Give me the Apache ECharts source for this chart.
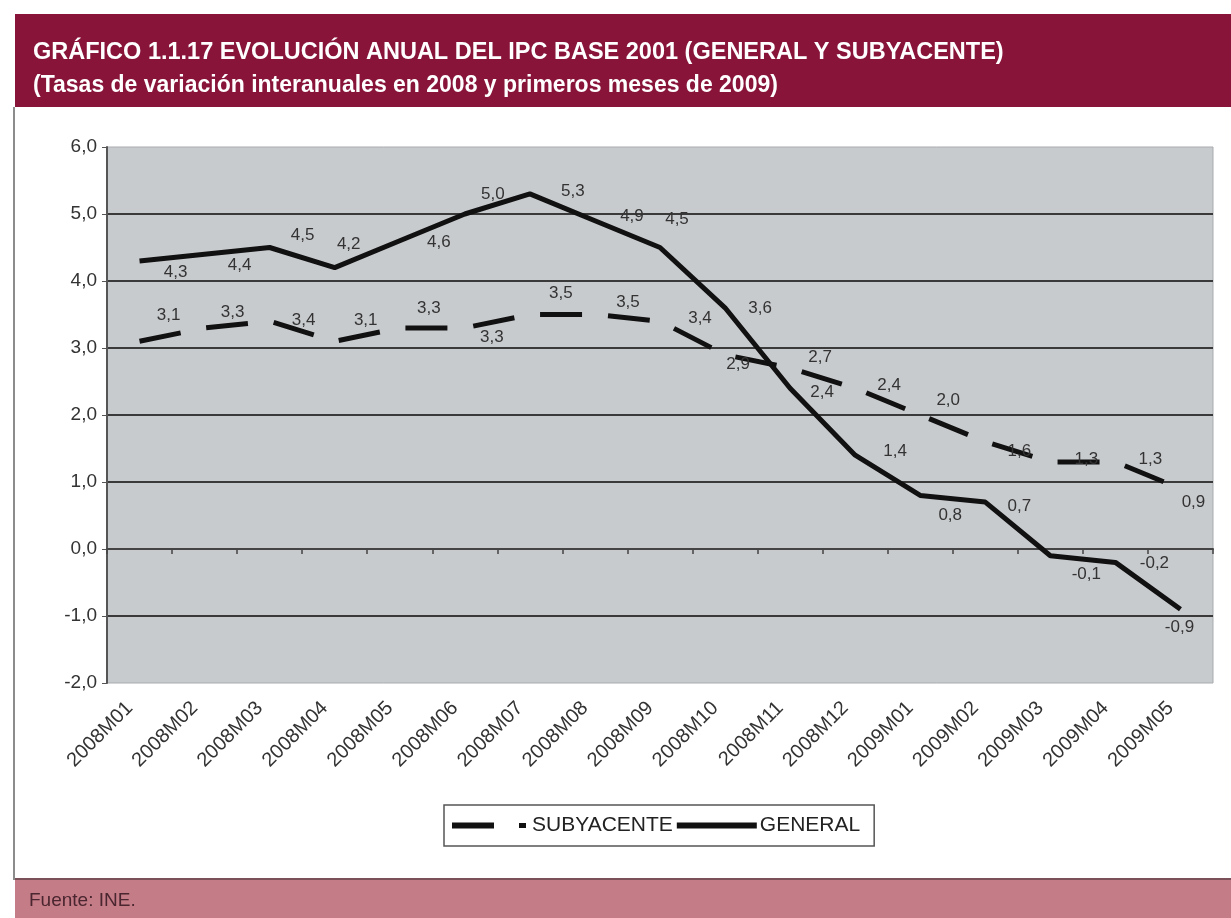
<!DOCTYPE html>
<html>
<head>
<meta charset="utf-8">
<title>IPC general y subyacente</title>
<script src="https://cdn.jsdelivr.net/npm/echarts@6/dist/echarts.min.js"></script>
<style>
    html, body { margin: 0; padding: 0; background: #fff; }
    #chart { width: 1231px; height: 918px; }
</style>
</head>
<body>
<div id="chart"></div>
<script>
// meses del eje X
const categories = ['2008M01', '2008M02', '2008M03', '2008M04', '2008M05', '2008M06',
    '2008M07', '2008M08', '2008M09', '2008M10', '2008M11', '2008M12',
    '2009M01', '2009M02', '2009M03', '2009M04', '2009M05'];

// tasas de variación interanual (%)
const general = [4.3, 4.4, 4.5, 4.2, 4.6, 5.0, 5.3, 4.9, 4.5, 3.6, 2.4, 1.4, 0.8, 0.7, -0.1, -0.2, -0.9];
const subyacente = [3.1, 3.3, 3.4, 3.1, 3.3, 3.3, 3.5, 3.5, 3.4, 2.9, 2.7, 2.4, 2.0, 1.6, 1.3, 1.3, 0.9];

// desplazamiento de las etiquetas (como en el gráfico de Excel)
const generalLabelOffset = [[36, 11], [35, 11], [33, -12], [14, -23], [39, 2], [28, -20], [43, -3],
    [37, -4], [17, -28], [35, 1], [32, 4], [40, -4], [30, 20], [34, 4], [36, 19], [39, 1], [-1, 18]];
const subyacenteLabelOffset = [[29, -26], [28, -16], [34, -1], [31, -21], [29, -20], [27, 9], [31, -21],
    [33, -12], [40, -3], [13, 10], [30, -11], [34, -3], [28, -15], [34, 10], [36, -3], [35, -3], [13, 14]];

const fmt = v => v.toFixed(1).replace('.', ',');
const FONT = "'Liberation Sans', Arial, sans-serif";

function withLabels(values, offsets) {
    return values.map((v, i) => ({
        value: v,
        label: { offset: offsets[i] }
    }));
}

const myChart = echarts.init(document.getElementById('chart'));
myChart.setOption({
    animation: false,
    backgroundColor: '#ffffff',
    textStyle: { fontFamily: FONT },
    title: {
        text: 'GRÁFICO 1.1.17 EVOLUCIÓN ANUAL DEL IPC BASE 2001 (GENERAL Y SUBYACENTE)',
        subtext: '(Tasas de variación interanuales en 2008 y primeros meses de 2009)',
        left: 33,
        top: 41,
        itemGap: 9,
        padding: 0,
        textStyle: { color: '#ffffff', fontSize: 23.5, fontWeight: 'bold', fontFamily: FONT },
        subtextStyle: { color: '#ffffff', fontSize: 23, fontWeight: 'bold', fontFamily: FONT }
    },
    graphic: [
        { type: 'rect', z: -10, shape: { x: 15, y: 14, width: 1216, height: 93 },
          style: { fill: '#88143a' } },
        { type: 'line', z: -10, shape: { x1: 14, y1: 107, x2: 14, y2: 880 },
          style: { stroke: '#8c8c8c', lineWidth: 2 } },
        { type: 'rect', z: -10, shape: { x: 15, y: 879, width: 1216, height: 39 },
          style: { fill: '#c47c87' } },
        { type: 'line', z: -9, shape: { x1: 15, y1: 879, x2: 1231, y2: 879 },
          style: { stroke: '#7b5058', lineWidth: 2 } },
        { type: 'text', left: 29, top: 891,
          style: { text: 'Fuente: INE.', fill: '#4a2630', fontSize: 19, fontFamily: FONT } }
    ],
    legend: {
        left: 444,
        top: 805,
        orient: 'horizontal',
        itemWidth: 80,
        itemHeight: 6,
        itemGap: 4,
        padding: [10, 14, 10, 8],
        backgroundColor: '#ffffff',
        borderColor: '#555555',
        borderWidth: 1.5,
        textStyle: { fontSize: 21, color: '#222', fontFamily: FONT, padding: [0, 0, 0, -2] },
        data: [
            { name: 'SUBYACENTE', icon: 'path://M0,0h42v6h-42z M67,0.5h7v5h-7z', itemStyle: { color: '#111' } },
            { name: 'GENERAL', icon: 'path://M0,0h80v6h-80z', itemStyle: { color: '#111' } }
        ]
    },
    grid: {
        left: 107,
        right: 18,
        top: 147,
        bottom: 235,
        show: true,
        backgroundColor: '#c8cbce',
        borderColor: '#a9abad',
        borderWidth: 1
    },
    xAxis: [
        {
            type: 'category',
            data: categories,
            boundaryGap: true,
            axisLine: { onZero: true, lineStyle: { color: '#444', width: 2 } },
            axisTick: { show: true, length: 5, lineStyle: { color: '#444', width: 1.5 } },
            axisLabel: { show: false }
        },
        {
            type: 'category',
            data: categories,
            boundaryGap: true,
            position: 'bottom',
            axisLine: { show: false, onZero: false },
            axisTick: { show: false },
            axisLabel: { rotate: 45, fontSize: 20, color: '#333', margin: 12,
                         padding: [0, 14, 0, 0], fontFamily: FONT }
        }
    ],
    yAxis: {
        type: 'value',
        min: -2,
        max: 6,
        interval: 1,
        axisLine: { show: true, lineStyle: { color: '#555', width: 2 } },
        axisTick: { show: true, length: 5, lineStyle: { color: '#555' } },
        axisLabel: { formatter: fmt, fontSize: 19, color: '#333', margin: 10, fontFamily: FONT },
        splitLine: {
            show: true,
            showMinLine: false,
            showMaxLine: false,
            lineStyle: { color: '#3a3a3a', width: 2 }
        }
    },
    series: [
        {
            name: 'SUBYACENTE',
            type: 'line',
            xAxisIndex: 0,
            symbol: 'circle',
            symbolSize: 0,
            itemStyle: { color: '#111' },
            lineStyle: { color: '#111', width: 5, type: [42, 26] },
            label: { show: true, position: 'inside', formatter: p => fmt(p.value),
                     fontSize: 17, color: '#333', fontFamily: FONT },
            data: withLabels(subyacente, subyacenteLabelOffset)
        },
        {
            name: 'GENERAL',
            type: 'line',
            xAxisIndex: 0,
            symbol: 'circle',
            symbolSize: 0,
            itemStyle: { color: '#111' },
            lineStyle: { color: '#111', width: 5 },
            label: { show: true, position: 'inside', formatter: p => fmt(p.value),
                     fontSize: 17, color: '#333', fontFamily: FONT },
            data: withLabels(general, generalLabelOffset)
        }
    ]
});
</script>
</body>
</html>
